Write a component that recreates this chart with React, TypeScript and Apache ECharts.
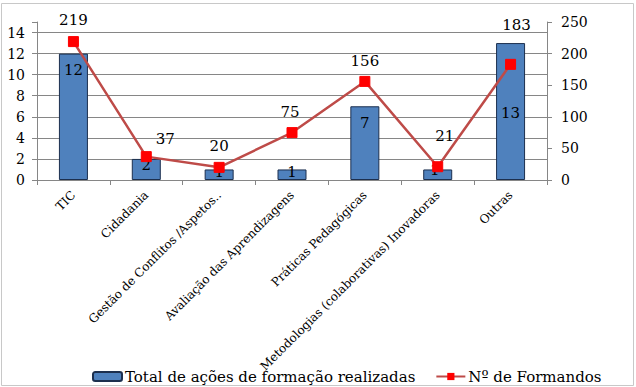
import React, { useEffect, useRef } from "react";
import * as echarts from "echarts";

const categories = [
  "TIC",
  "Cidadania",
  "Gestão de Conflitos /Aspetos..",
  "Avaliação das Aprendizagens",
  "Práticas Pedagógicas",
  "Metodologias (colaborativas) Inovadoras",
  "Outras",
];
const acoesValues = [12, 2, 1, 1, 7, 1, 13];
const formandosValues = [219, 37, 20, 75, 156, 21, 183];
const leftTicks = [0, 2, 4, 6, 8, 10, 12, 14];
const rightTicks = [0, 50, 100, 150, 200, 250];

// label nudges (style only)
const barLabelNudge: [number, number][] = [
  [0, 4], [0, -6], [0, -10], [0, -10], [0, 4], [-3, -12], [0, 57],
];
const lineLabelNudge: [number, number][] = [
  [0, -4], [19, 0], [0, -3], [-2, -3], [0, -2], [7, -13], [6, -21],
];

const FONT = "DejaVu Serif";

export default function App() {
  const ref = useRef<HTMLDivElement>(null);
  useEffect(() => {
    document.body.style.margin = "0";
    const chart = echarts.init(ref.current!, null, { renderer: "svg" });
    chart.setOption({
      animation: false,
      textStyle: { fontFamily: FONT, color: "#000" },
      graphic: [
        {
          type: "rect",
          shape: { x: 1.5, y: 3.5, width: 632, height: 382 },
          style: { fill: "none", stroke: "#c8c8c8", lineWidth: 1 },
          silent: true,
        },
      ],
      grid: {
        left: 37,
        right: 89,
        top: 22,
        bottom: 207,
        containLabel: false,
        outerBoundsMode: "none",
      },
      legend: {
        left: 87,
        top: 364,
        itemGap: 20,
        itemWidth: 29,
        itemHeight: 9,
        textStyle: { fontFamily: FONT, fontSize: 15, color: "#000", padding: [0, 0, 0, -2] },
        data: ["Total de ações de formação realizadas", "Nº de Formandos"],
      },
      xAxis: {
        type: "category",
        data: categories,
        boundaryGap: true,
        axisLine: { lineStyle: { color: "#868686" } },
        axisTick: { show: true, length: 5, lineStyle: { color: "#868686" } },
        axisLabel: {
          rotate: 45,
          interval: 0,
          margin: 13,
          fontFamily: FONT,
          fontSize: 12,
          color: "#000",
        },
      },
      yAxis: [
        {
          type: "value",
          min: 0,
          max: 15,
          interval: 2,
          axisLine: { show: true, lineStyle: { color: "#868686" } },
          axisTick: { show: true, length: 5, lineStyle: { color: "#868686" } },
          axisLabel: {
            margin: 12,
            fontFamily: FONT,
            fontSize: 14,
            color: "#000",
            formatter: (v: number) => (leftTicks.includes(v) ? String(v) : ""),
          },
          splitLine: { show: true, showMaxLine: false, lineStyle: { color: "#868686", width: 1 } },
        },
        {
          type: "value",
          min: 0,
          max: 250,
          interval: 50,
          position: "right",
          axisLine: { show: true, lineStyle: { color: "#868686" } },
          axisTick: { show: true, length: 5, lineStyle: { color: "#868686" } },
          axisLabel: {
            margin: 14,
            fontFamily: FONT,
            fontSize: 14,
            color: "#000",
            formatter: (v: number) => (rightTicks.includes(v) ? String(v) : ""),
          },
          splitLine: { show: false },
        },
      ],
      series: [
        {
          name: "Total de ações de formação realizadas",
          type: "bar",
          yAxisIndex: 0,
          barWidth: 29,
          itemStyle: { color: "#4F81BD", borderColor: "#1c2f4e", borderWidth: 1 },
          data: acoesValues.map((v, i) => ({
            value: v,
            label: { offset: barLabelNudge[i] },
          })),
          label: {
            show: true,
            position: "insideTop",
            fontFamily: FONT,
            fontSize: 15,
            color: "#000",
          },
          z: 1,
        },
        {
          name: "Nº de Formandos",
          type: "line",
          yAxisIndex: 1,
          symbol: "rect",
          symbolSize: 10,
          lineStyle: { color: "#BE4B48", width: 2.5 },
          itemStyle: { color: "#FF0000", borderColor: "#FF0000" },
          data: formandosValues.map((v, i) => ({
            value: v,
            label: { offset: lineLabelNudge[i] },
          })),
          label: {
            show: true,
            position: "top",
            distance: 5,
            fontFamily: FONT,
            fontSize: 15,
            color: "#000",
          },
          z: 3,
        },
      ],
    });
    return () => chart.dispose();
  }, []);
  return <div ref={ref} style={{ width: 636, height: 387 }} />;
}
